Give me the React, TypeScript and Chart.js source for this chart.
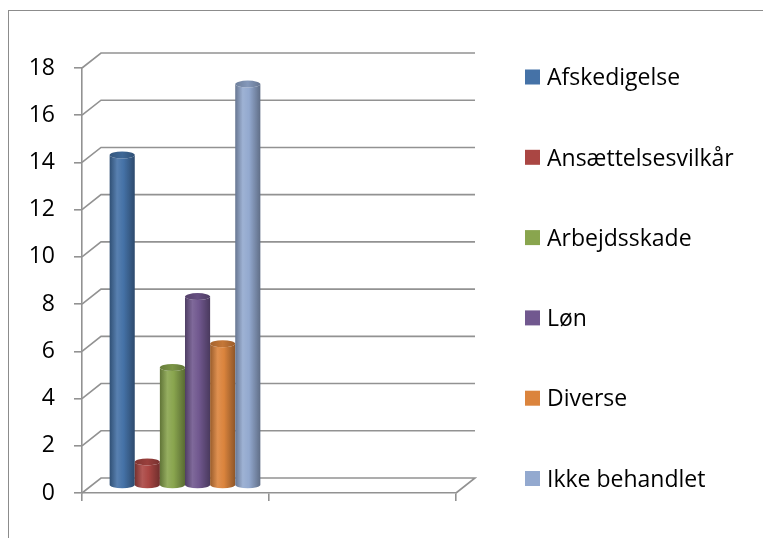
import React, { useEffect, useRef } from 'react';
import { Chart, registerables } from 'chart.js';

Chart.register(...registerables);

// ---- data ----
const categories = ['', ''];
const seriesNames = ['Afskedigelse', 'Ansættelsesvilkår', 'Arbejdsskade', 'Løn', 'Diverse', 'Ikke behandlet'];
const seriesValues = [14, 1, 5, 8, 6, 17];
const seriesColors = ['#4572A7', '#AA4643', '#89A54E', '#71588F', '#DB843D', '#93A9CF'];
const yMin = 0;
const yMax = 18;
const yStep = 2;

// ---- style ----
const FONT = '"Open Sans"';
const FONT_SIZE = 23;
const LINE = '#929292';
const DX = 19;
const DY = -15;
const RY = 3.5;
const CANVAS_W = 754;
const CANVAS_H = 527;

function toRgb(hex: string): number[] {
  const h = hex.replace('#', '');
  return [0, 2, 4].map((i) => parseInt(h.slice(i, i + 2), 16));
}
function mix(hex: string, target: number[], t: number): string {
  const c = toRgb(hex);
  const r = c.map((v, i) => Math.round(v + (target[i] - v) * t));
  return `rgb(${r[0]},${r[1]},${r[2]})`;
}
const BLACK = [0, 0, 0];
const WHITE = [255, 255, 255];

function drawCylinder(ctx: CanvasRenderingContext2D, cx: number, top: number, bottom: number, w: number, color: string) {
  const rx = w / 2;
  const g = ctx.createLinearGradient(cx - rx, 0, cx + rx, 0);
  g.addColorStop(0, mix(color, BLACK, 0.3));
  g.addColorStop(0.3, mix(color, WHITE, 0.1));
  g.addColorStop(0.55, color);
  g.addColorStop(1, mix(color, BLACK, 0.35));
  ctx.beginPath();
  ctx.moveTo(cx - rx, top);
  ctx.lineTo(cx - rx, bottom);
  ctx.ellipse(cx, bottom, rx, RY, 0, Math.PI, 0, true);
  ctx.lineTo(cx + rx, top);
  ctx.ellipse(cx, top, rx, RY, 0, 0, Math.PI, false);
  ctx.closePath();
  ctx.fillStyle = g;
  ctx.fill();
  // cap
  const gc = ctx.createLinearGradient(cx - rx, 0, cx + rx, 0);
  gc.addColorStop(0, mix(color, BLACK, 0.25));
  gc.addColorStop(0.5, mix(color, BLACK, 0.1));
  gc.addColorStop(1, mix(color, BLACK, 0.3));
  ctx.beginPath();
  ctx.ellipse(cx, top, rx, RY, 0, 0, Math.PI * 2);
  ctx.fillStyle = gc;
  ctx.fill();
}

const walls3d = {
  id: 'walls3d',
  beforeDatasetsDraw(chart: any) {
    const { ctx, chartArea } = chart;
    const ys = chart.scales.y;
    ctx.save();
    ctx.strokeStyle = LINE;
    ctx.lineWidth = 1.6;
    ys.ticks.forEach((t: any) => {
      const py = ys.getPixelForValue(t.value);
      ctx.beginPath();
      ctx.moveTo(chartArea.left, py);
      ctx.lineTo(chartArea.left + DX, py + DY);
      ctx.lineTo(chartArea.right + DX, py + DY);
      if (t.value === yMin) ctx.lineTo(chartArea.right, py);
      ctx.stroke();
    });
    chart.data.datasets.forEach((ds: any, di: number) => {
      const meta = chart.getDatasetMeta(di);
      if (meta.hidden) return;
      meta.data.forEach((el: any, i: number) => {
        if (ds.data[i] == null) return;
        const p = el.getProps(['x', 'y', 'base', 'width'], true);
        drawCylinder(ctx, p.x + DX / 2, p.y + DY / 2, p.base + DY / 2, p.width, ds.backgroundColor);
      });
    });
    ctx.restore();
    return false;
  },
};

const LEGEND_X = 69;
const LEGEND_FIRST = 9;
const LEGEND_STEP = 80.3;
const LEGEND_BOX = 15;

const sideLegend = {
  id: 'sideLegend',
  afterDraw(chart: any) {
    const { ctx, chartArea } = chart;
    ctx.save();
    ctx.font = `${FONT_SIZE}px ${FONT}`;
    ctx.textBaseline = 'alphabetic';
    ctx.textAlign = 'left';
    chart.data.datasets.forEach((ds: any, i: number) => {
      const cy = chartArea.top + LEGEND_FIRST + i * LEGEND_STEP;
      const bx = chartArea.right + LEGEND_X;
      ctx.fillStyle = ds.backgroundColor;
      ctx.fillRect(bx, cy - LEGEND_BOX / 2, LEGEND_BOX, LEGEND_BOX);
      ctx.fillStyle = '#000';
      ctx.fillText(ds.label, bx + 22, cy + FONT_SIZE * 0.36);
    });
    ctx.restore();
  },
};

export default function App() {
  const ref = useRef<HTMLCanvasElement>(null);
  useEffect(() => {
    if (!ref.current) return;
    const chart = new Chart(ref.current, {
      type: 'bar',
      data: {
        labels: categories,
        datasets: seriesNames.map((name, i) => ({
          label: name,
          data: [seriesValues[i], null],
          backgroundColor: seriesColors[i],
          categoryPercentage: 0.806,
          barPercentage: 1,
        })),
      },
      options: {
        animation: false,
        responsive: false,
        devicePixelRatio: 1,
        layout: { padding: { top: 57, right: CANVAS_W - 447, left: 0, bottom: 0 } },
        plugins: { legend: { display: false }, tooltip: { enabled: false }, title: { display: false } },
        scales: {
          x: {
            grid: { display: true, drawOnChartArea: false, drawTicks: true, tickLength: 8, color: LINE, lineWidth: 1.6, offset: true },
            border: { display: true, color: LINE, width: 1.6 },
            ticks: { display: true },
            afterFit: (s: any) => { s.height = 45; },
          },
          y: {
            min: yMin,
            max: yMax,
            grid: { display: true, drawOnChartArea: false, drawTicks: true, tickLength: 8, color: LINE, lineWidth: 1.6 },
            border: { display: true, color: LINE, width: 1.6 },
            ticks: { stepSize: yStep, padding: 19, color: '#000', font: { family: FONT, size: FONT_SIZE } },
            afterFit: (s: any) => { s.width = 73; },
          },
        },
      },
      plugins: [walls3d, sideLegend],
    } as any);
    return () => chart.destroy();
  }, []);
  return (
    <div
      style={{
        position: 'absolute',
        left: 8,
        top: 10,
        width: CANVAS_W,
        height: CANVAS_H,
        borderTop: '1px solid #8c8c8c',
        borderLeft: '1px solid #8c8c8c',
        overflow: 'hidden',
        background: '#fff',
      }}
    >
      <canvas ref={ref} width={CANVAS_W} height={CANVAS_H} style={{ display: 'block', width: CANVAS_W, height: CANVAS_H }} />
    </div>
  );
}
